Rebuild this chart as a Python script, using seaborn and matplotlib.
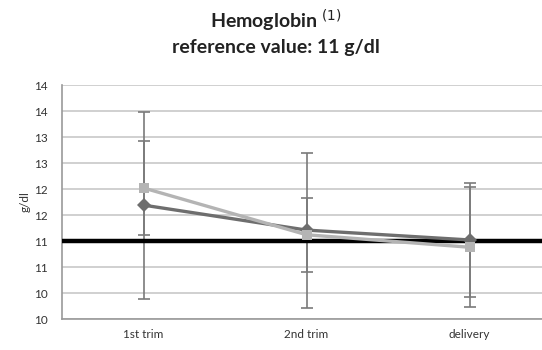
import numpy as np
import pandas as pd
import matplotlib
matplotlib.use("Agg")
import matplotlib.pyplot as plt
from matplotlib.ticker import FuncFormatter, FixedLocator
import seaborn as sns

# Hemoglobin by pregnancy stage: mean and SD for two groups
stages = ["1st trim", "2nd trim", "delivery"]
group_a_mean = [12.02, 11.12, 10.88]
group_a_sd = [0.91, 0.71, 1.15]
group_b_mean = [11.69, 11.21, 11.02]
group_b_sd = [1.80, 1.49, 1.10]
reference_value = 11.0
y_ticks = [9.5, 10.0, 10.5, 11.0, 11.5, 12.0, 12.5, 13.0, 13.5, 14.0]

sns.set_style("white")
plt.rcParams["font.family"] = ["Lato", "DejaVu Sans"]

pos = np.arange(len(stages))
df = pd.concat([
    pd.DataFrame({"x": pos, "hb": group_b_mean, "sd": group_b_sd, "group": "B"}),
    pd.DataFrame({"x": pos, "hb": group_a_mean, "sd": group_a_sd, "group": "A"}),
])

fig = plt.figure(figsize=(5.42, 3.5), dpi=100)
ax = fig.add_axes([62 / 542, 31 / 350, (551 - 62) / 542, (319 - 85) / 350])

colors = {"A": "#b4b4b4", "B": "#6e6e6e"}
markers = {"A": "s", "B": "D"}

# error bars first, so lines and markers sit on top
for g, sub in df.groupby("group"):
    ax.errorbar(sub["x"], sub["hb"], yerr=sub["sd"], fmt="none",
                ecolor="#7a7a7a", elinewidth=1.2, capsize=4, capthick=1.2, zorder=2)

ax.axhline(reference_value, color="black", lw=3.2, zorder=3)

sns.lineplot(data=df, x="x", y="hb", hue="group", style="group",
             palette=colors, markers=markers, dashes=False, markersize=7,
             markeredgewidth=0, lw=2.4, legend=False, ax=ax, zorder=4)

ax.set_xlim(-0.5, 2.5)
ax.set_ylim(9.5, 14.0)
ax.yaxis.set_major_locator(FixedLocator(y_ticks))
ax.yaxis.set_major_formatter(FuncFormatter(lambda v, _: f"{int(np.floor(v + 0.5))}"))
ax.grid(axis="y", color="#c8c8c8", lw=1.2)
ax.set_axisbelow(True)

ax.set_xticks(pos)
ax.set_xticklabels(stages)
ax.set_xticks([0.5, 1.5], minor=True)
ax.tick_params(axis="x", which="major", length=0, pad=7, labelsize=8.5, labelcolor="#333333")
ax.tick_params(axis="x", which="minor", length=4, color="#999999", direction="out")
ax.tick_params(axis="y", length=4, color="#999999", direction="out", labelsize=8.5,
               labelcolor="#333333", pad=6)

for side in ["top", "right"]:
    ax.spines[side].set_visible(False)
for side in ["left", "bottom"]:
    ax.spines[side].set_color("#999999")
    ax.spines[side].set_linewidth(1.2)

ax.set_xlabel("")
ax.set_ylabel("g/dl", fontsize=8.5, color="#333333", labelpad=3)

fig.text(276 / 542, 1 - 21 / 350, "Hemoglobin $^{(1)}$", ha="center", va="center",
         fontsize=14, fontweight="bold", color="#222222")
fig.text(276 / 542, 1 - 48 / 350, "reference value: 11 g/dl", ha="center", va="center",
         fontsize=14, fontweight="bold", color="#222222")

fig.savefig("out.png", dpi=100)
